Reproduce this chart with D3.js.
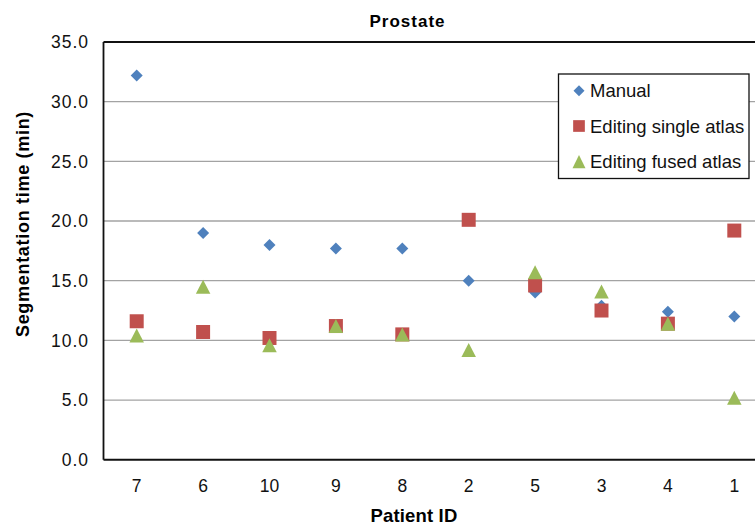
<!DOCTYPE html>
<html>
<head>
<meta charset="utf-8">
<script src="https://cdn.jsdelivr.net/npm/d3@7"></script>
<style>
  body { margin: 0; background: #fff; }
  svg { display: block; font-family: "Liberation Sans", Arial, sans-serif; }
</style>
</head>
<body>
<svg id="chart" width="755" height="525"></svg>
<script>
// data
var patients = ['7', '6', '10', '9', '8', '2', '5', '3', '4', '1']
var manual = [32.2, 19.0, 18.0, 17.7, 17.7, 15.0, 14.0, 12.9, 12.4, 12.0]
var singleAtlas = [11.6, 10.7, 10.2, 11.2, 10.5, 20.1, 14.6, 12.5, 11.4, 19.2]
var fusedAtlas = [10.4, 14.5, 9.6, 11.2, 10.5, 9.2, 15.7, 14.1, 11.4, 5.2]
var yTicks = [0, 5, 10, 15, 20, 25, 30, 35]
var seriesNames = ['Manual', 'Editing single atlas', 'Editing fused atlas']

var colors = { manual: '#4F81BD', single: '#C0504D', fused: '#9BBB59' }

var svg = d3.select('#chart')
var plot = { left: 103.5, right: 767.5, top: 42, bottom: 459.7 }

var x = d3.scaleBand().domain(patients).range([plot.left, plot.right])
var y = d3.scaleLinear().domain([0, 35]).range([plot.bottom, plot.top])

// marker shapes
function diamond(s) {
    var h = s / 2
    return `M0,${-h}L${h},0L0,${h}L${-h},0Z`
}
function square(s) {
    var h = s / 2
    return `M${-h},${-h}H${h}V${h}H${-h}Z`
}
function triangle(w, hgt) {
    return `M0,${-hgt / 2}L${w / 2},${hgt / 2}L${-w / 2},${hgt / 2}Z`
}

// gridlines
svg.append('g')
    .selectAll('line')
    .data(yTicks.filter(d => d > 0 && d < 35))
    .join('line')
    .attr('x1', plot.left)
    .attr('x2', plot.right)
    .attr('y1', d => y(d))
    .attr('y2', d => y(d))
    .attr('stroke', '#a3a3a3')
    .attr('stroke-width', 1.3)

// frame: top, left, bottom
var frame = svg.append('g').attr('stroke', '#111').attr('stroke-width', 1.8)
frame.append('line').attr('x1', plot.left).attr('x2', plot.right).attr('y1', y(35)).attr('y2', y(35))
frame.append('line').attr('x1', plot.left).attr('x2', plot.left).attr('y1', y(35)).attr('y2', y(0))
frame.append('line').attr('x1', plot.left).attr('x2', plot.right).attr('y1', y(0)).attr('y2', y(0)).attr('stroke-width', 2)

// y tick labels
svg.append('g')
    .selectAll('text')
    .data(yTicks)
    .join('text')
    .attr('x', 89)
    .attr('y', d => y(d) + 6.3)
    .attr('text-anchor', 'end')
    .attr('font-size', 17.5)
    .attr('letter-spacing', 1)
    .attr('fill', '#111')
    .text(d => d.toFixed(1))

// x tick labels
svg.append('g')
    .selectAll('text')
    .data(patients)
    .join('text')
    .attr('x', d => x(d) + x.bandwidth() / 2)
    .attr('y', 492)
    .attr('text-anchor', 'middle')
    .attr('font-size', 17.5)
    .attr('fill', '#111')
    .text(d => d)

// points
var cx = (d, i) => x(patients[i]) + x.bandwidth() / 2
svg.append('g')
    .selectAll('path')
    .data(manual)
    .join('path')
    .attr('d', diamond(12))
    .attr('transform', (d, i) => `translate(${cx(d, i)},${y(d)})`)
    .attr('fill', colors.manual)
svg.append('g')
    .selectAll('path')
    .data(singleAtlas)
    .join('path')
    .attr('d', square(14))
    .attr('transform', (d, i) => `translate(${cx(d, i)},${y(d)})`)
    .attr('fill', colors.single)
svg.append('g')
    .selectAll('path')
    .data(fusedAtlas)
    .join('path')
    .attr('d', triangle(14.5, 14))
    .attr('transform', (d, i) => `translate(${cx(d, i)},${y(d)})`)
    .attr('fill', colors.fused)

// title + axis titles
svg.append('text')
    .attr('x', 407.5)
    .attr('y', 27.3)
    .attr('text-anchor', 'middle')
    .attr('font-size', 17)
    .attr('font-weight', 'bold')
    .attr('letter-spacing', 1)
    .text('Prostate')
svg.append('text')
    .attr('x', 414)
    .attr('y', 521.5)
    .attr('text-anchor', 'middle')
    .attr('font-size', 18.5)
    .attr('font-weight', 'bold')
    .attr('letter-spacing', 0.15)
    .text('Patient ID')
svg.append('text')
    .attr('transform', 'translate(29,224) rotate(-90)')
    .attr('text-anchor', 'middle')
    .attr('font-size', 18)
    .attr('font-weight', 'bold')
    .attr('letter-spacing', 0.7)
    .text('Segmentation time (min)')

// legend
var legend = svg.append('g')
legend.append('rect')
    .attr('x', 558.5)
    .attr('y', 74)
    .attr('width', 190.5)
    .attr('height', 104.5)
    .attr('fill', '#fff')
    .attr('stroke', '#111')
    .attr('stroke-width', 1.3)
var legendShapes = [diamond(11), square(11.7), triangle(13, 13.3)]
var legendColors = [colors.manual, colors.single, colors.fused]
var legendRows = [90.7, 126, 161.7]
var items = legend.selectAll('g.item')
    .data(seriesNames)
    .join('g')
    .attr('class', 'item')
    .attr('transform', (d, i) => `translate(579,${legendRows[i]})`)
items.append('path')
    .attr('d', (d, i) => legendShapes[i])
    .attr('fill', (d, i) => legendColors[i])
items.append('text')
    .attr('x', 11)
    .attr('y', 6.5)
    .attr('font-size', 18.5)
    .attr('fill', '#111')
    .text(d => d)
</script>
</body>
</html>
